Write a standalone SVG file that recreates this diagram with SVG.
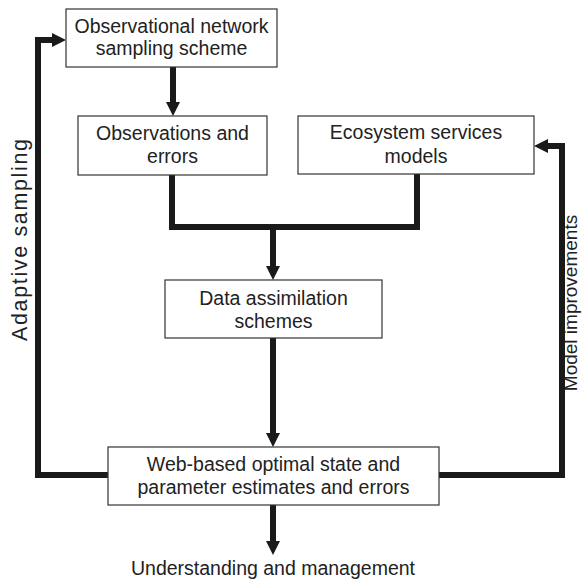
<svg xmlns="http://www.w3.org/2000/svg" width="582" height="580" viewBox="0 0 582 580">
<style>
.box{fill:#fff;stroke:#333;stroke-width:1.2}
.t{font-family:"Liberation Sans",Arial,sans-serif;font-size:19.5px;fill:#222;text-anchor:middle}
.c{fill:none;stroke:#1a1a1a;stroke-width:6;stroke-linejoin:miter}
</style>
<defs>
<marker id="ah" markerUnits="userSpaceOnUse" markerWidth="14" markerHeight="14" viewBox="0 0 14 14" refX="1" refY="7" orient="auto">
<path d="M0,0 L14,7 L0,14 Z" fill="#1a1a1a"/>
</marker>
</defs>
<rect width="582" height="580" fill="#fff"/>
<g id="connectors">
<path class="c" d="M173,67 V103" marker-end="url(#ah)"/>
<path class="c" d="M172,175 V227 H417 V174"/>
<path class="c" d="M273,227 V267" marker-end="url(#ah)"/>
<path class="c" d="M273,338 V434" marker-end="url(#ah)"/>
<path class="c" d="M273,505 V542" marker-end="url(#ah)"/>
<path class="c" d="M108,475 H38 V40 H53" marker-end="url(#ah)"/>
<path class="c" d="M439,475 H562 V146 H547" marker-end="url(#ah)"/>
</g>
<g id="n1">
<rect class="box" x="66" y="9" width="211" height="58"/>
<text class="t" x="171.5" y="33">Observational network</text>
<text class="t" x="171.5" y="55">sampling scheme</text>
</g>
<g id="n2">
<rect class="box" x="78" y="116" width="189" height="59"/>
<text class="t" x="172.5" y="140">Observations and</text>
<text class="t" x="172.5" y="163">errors</text>
</g>
<g id="n3">
<rect class="box" x="298" y="116" width="236" height="58"/>
<text class="t" x="416" y="139">Ecosystem services</text>
<text class="t" x="416" y="163">models</text>
</g>
<g id="n4">
<rect class="box" x="165" y="280" width="217" height="58"/>
<text class="t" x="273.5" y="305">Data assimilation</text>
<text class="t" x="273.5" y="328">schemes</text>
</g>
<g id="n5">
<rect class="box" x="108" y="447" width="331" height="58"/>
<text class="t" x="273.5" y="471">Web-based optimal state and</text>
<text class="t" x="273.5" y="494">parameter estimates and errors</text>
</g>
<g id="labels">
<text class="t" x="273" y="575">Understanding and management</text>
<text class="t" transform="translate(27,240) rotate(-90)" style="font-size:21.5px" textLength="202" lengthAdjust="spacing">Adaptive sampling</text>
<text class="t" transform="translate(577,303) rotate(-90)" style="font-size:19px">Model improvements</text>
</g>
</svg>
